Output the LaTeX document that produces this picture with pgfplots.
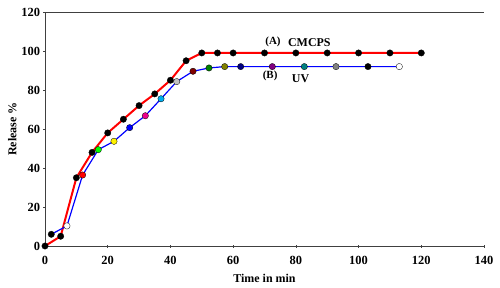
\documentclass[border=0pt]{standalone}
\usepackage{pgfplots}
\pgfplotsset{compat=1.18}
\usepackage{fontspec}
\setmainfont{Liberation Serif}
\definecolor{cmaroon}{RGB}{128,0,0}
\definecolor{cgreen}{RGB}{0,128,0}
\definecolor{colive}{RGB}{128,128,0}
\definecolor{cnavy}{RGB}{0,0,128}
\definecolor{cpurple}{RGB}{128,0,128}
\definecolor{cteal}{RGB}{0,128,128}
\definecolor{cgray}{RGB}{128,128,128}
\definecolor{clgray}{RGB}{192,192,192}
\begin{document}
\begin{tikzpicture}
\path[use as bounding box] (-45bp,-42bp) rectangle (455bp,246bp);
\begin{axis}[
  scale only axis, width=439bp, height=234bp,
  xmin=0, xmax=140, ymin=0, ymax=120,
  xtick={0,20,...,140}, ytick={0,20,...,120},
  axis lines=left, axis line style={-, black!75, line width=0.8pt},
  tick align=center, major tick length=3bp, tick style={black!75, line width=0.6pt},
  every tick label/.append style={font=\fontsize{12.5}{14}\selectfont\bfseries},
  xticklabel style={yshift=-5bp},
  /pgf/number format/assume math mode=true,
  xlabel={Time in min}, ylabel={Release \%},
  label style={font=\fontsize{12}{14}\selectfont\bfseries},
  xlabel style={yshift=-3bp},
  ylabel style={yshift=-2bp},
  clip=false,
]
\draw[black!75, line width=0.8pt] (rel axis cs:0,1) -- (rel axis cs:1,1);
% Series A (CMCPS)
\addplot[red, line width=2pt, mark=*, mark size=3.2bp, mark options={fill=black, draw=black, line width=0.3pt}] coordinates {
(0,0) (5,5) (10,35) (15,48) (20,58) (25,65) (30,72) (35,78) (40,85) (45,95) (50,99) (55,99) (60,99) (70,99) (80,99) (90,99) (100,99) (110,99) (120,99)};
% Series B (UV)
\addplot[blue, line width=1.2pt] coordinates {
(2,6) (7,10.3) (12,36.4) (17,49.4) (22,53.7) (27,60.7) (32,66.8) (37,75.5) (42,84.3) (47.2,89.6) (52.3,91.3) (57.3,92) (62.4,92) (72.5,92) (82.7,92) (92.8,92) (103,92) (113,92)};
\pgfplotsset{bm/.style={only marks, mark=*, mark size=3.2bp, mark options={draw=black, line width=0.3pt, fill=#1}}}
\addplot[bm=black] coordinates {(2,6)};
\addplot[bm=white] coordinates {(7,10.3)};
\addplot[bm=red] coordinates {(12,36.4)};
\addplot[bm=green] coordinates {(17,49.4)};
\addplot[bm=yellow] coordinates {(22,53.7)};
\addplot[bm=blue] coordinates {(27,60.7)};
\addplot[bm=magenta] coordinates {(32,66.8)};
\addplot[bm=cyan] coordinates {(37,75.5)};
\addplot[bm=clgray] coordinates {(42,84.3)};
\addplot[bm=cmaroon] coordinates {(47.2,89.6)};
\addplot[bm=cgreen] coordinates {(52.3,91.3)};
\addplot[bm=colive] coordinates {(57.3,92)};
\addplot[bm=cnavy] coordinates {(62.4,92)};
\addplot[bm=cpurple] coordinates {(72.5,92)};
\addplot[bm=cteal] coordinates {(82.7,92)};
\addplot[bm=cgray] coordinates {(92.8,92)};
\addplot[bm=black] coordinates {(103,92)};
\addplot[bm=white] coordinates {(113,92)};
\node[font=\fontsize{11}{13}\selectfont\bfseries] at (axis cs:72.7,104.8) {(A)};
\node[font=\fontsize{12}{14}\selectfont\bfseries] at (axis cs:84.3,104.2) {CMCPS};
\node[font=\fontsize{11}{13}\selectfont\bfseries] at (axis cs:71.8,87.4) {(B)};
\node[font=\fontsize{12}{14}\selectfont\bfseries] at (axis cs:81.5,85.8) {UV};
\end{axis}
\end{tikzpicture}
\end{document}
